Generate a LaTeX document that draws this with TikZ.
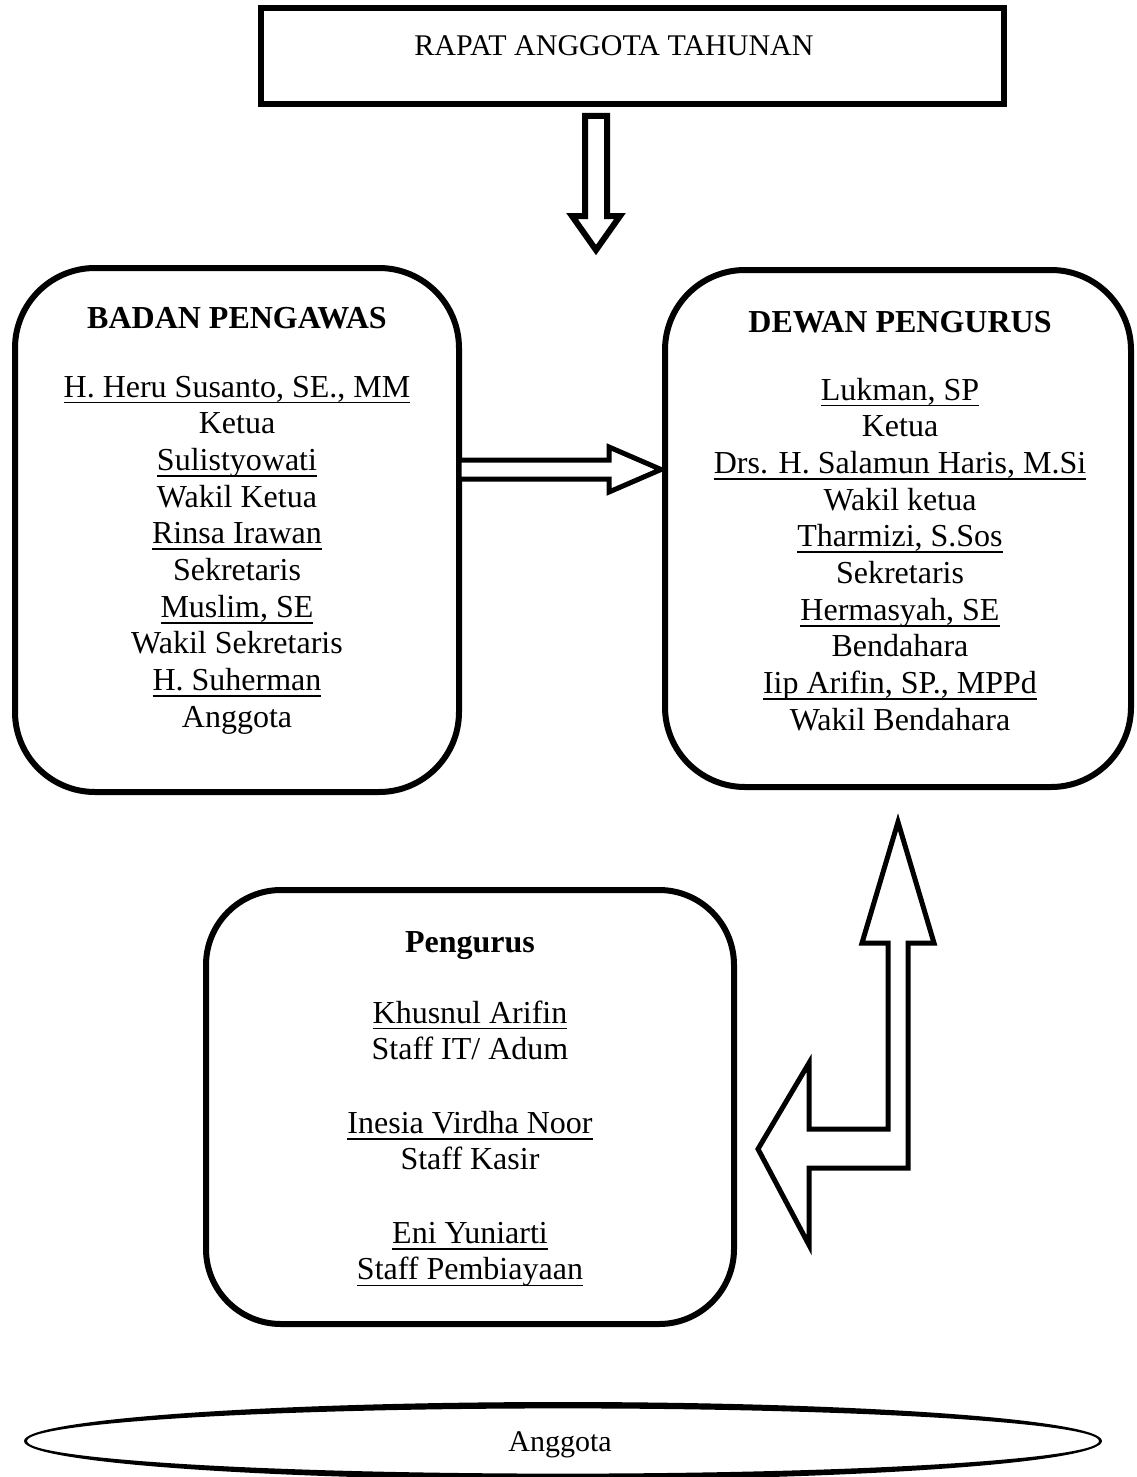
\documentclass[tikz,border=0pt]{standalone}
\usepackage{fontspec}
\setmainfont{Liberation Serif}
\newcommand\ulw[1]{\setbox0=\hbox{#1}\rlap{\rule[-3.2pt]{\wd0}{0.9pt}}\box0}
\tikzset{
  txt/.style={font=\fontsize{16}{18}\selectfont, inner sep=0pt, anchor=base},
  smalltxt/.style={txt, font=\fontsize{15}{17}\selectfont},
  hd/.style={txt, font=\fontsize{16}{18}\selectfont\bfseries},
  rbox/.style={draw, line width=3pt, rounded corners=#1, inner sep=0pt},
  blockarrow/.style={draw, line width=2.5pt, miter limit=10, line join=miter, fill=white},
}
\begin{document}
\begin{tikzpicture}[x=0.5pt, y=-0.5pt]
\useasboundingbox (0,0) rectangle (1136,1477);
% top box
\node[draw, line width=3pt, minimum width=371.5pt, minimum height=48pt, inner sep=0pt] (rat) at (632.5,56) {};
\node[smalltxt] (ratt) at (614,56) {RAPAT ANGGOTA TAHUNAN};
% down arrow
\draw[blockarrow, line width=3pt] (585,116) -- (607,116) -- (607,216) -- (620,216) -- (596,250) -- (572,216) -- (585,216) -- cycle;
% boxes
\node[rbox=40pt, minimum width=222pt, minimum height=262pt] (bp) at (237,530) {};
\node[rbox=40pt, minimum width=233pt, minimum height=258.5pt] (dp) at (898,528.5) {};
\node[rbox=37.5pt, minimum width=264pt, minimum height=217pt] (pg) at (470,1107) {};
% right arrow
\draw[blockarrow] (459,460) -- (609,460) -- (609,447) -- (661,469.5) -- (609,492) -- (609,479) -- (459,479) -- cycle;
% bent arrow
\draw[blockarrow] (898,822) -- (934,943) -- (908,943) -- (908,1168) -- (809,1168) -- (809,1245) -- (758,1149) -- (809,1063) -- (809,1129) -- (888,1129) -- (888,943) -- (862,943) -- cycle;
% Badan Pengawas text
\node[hd] (bph) at (237,328) {BADAN PENGAWAS};
\node[txt] (bp1) at (237,397) {\ulw{H. Heru Susanto, SE., MM}};
\node[txt] (bp2) at (237,433.7) {Ketua};
\node[txt] (bp3) at (237,470.4) {\ulw{Sulistyowati}};
\node[txt] (bp4) at (237,507.1) {Wakil Ketua};
\node[txt] (bp5) at (237,543.8) {\ulw{Rinsa Irawan}};
\node[txt] (bp6) at (237,580.5) {Sekretaris};
\node[txt] (bp7) at (237,617.2) {\ulw{Muslim, SE}};
\node[txt] (bp8) at (237,653.9) {Wakil Sekretaris};
\node[txt] (bp9) at (237,690.6) {\ulw{H. Suherman}};
\node[txt] (bp10) at (237,727.3) {Anggota};
% Dewan Pengurus text
\node[hd] (dph) at (900,332) {DEWAN PENGURUS};
\node[txt] (dp1) at (900,400) {\ulw{Lukman, SP}};
\node[txt] (dp2) at (900,436.7) {Ketua};
\node[txt] (dp3) at (900,473.4) {\ulw{Drs. H. Salamun Haris, M.Si}};
\node[txt] (dp4) at (900,510.1) {Wakil ketua};
\node[txt] (dp5) at (900,546.8) {\ulw{Tharmizi, S.Sos}};
\node[txt] (dp6) at (900,583.5) {Sekretaris};
\node[txt] (dp7) at (900,620.2) {\ulw{Hermasyah, SE}};
\node[txt] (dp8) at (900,656.9) {Bendahara};
\node[txt] (dp9) at (900,693.6) {\ulw{Iip Arifin, SP., MPPd}};
\node[txt] (dp10) at (900,730.3) {Wakil Bendahara};
% Pengurus text
\node[hd] (pgh) at (470,952) {Pengurus};
\node[txt] (pg1) at (470,1023) {\ulw{Khusnul Arifin}};
\node[txt] (pg2) at (470,1059.7) {Staff IT/ Adum};
\node[txt] (pg3) at (470,1133.1) {\ulw{Inesia Virdha Noor}};
\node[txt] (pg4) at (470,1169.8) {Staff Kasir};
\node[txt] (pg5) at (470,1243.2) {\ulw{Eni Yuniarti}};
\node[txt] (pg6) at (470,1279.9) {\ulw{Staff Pembiayaan}};
% Anggota ellipse
\coordinate (ang) at (563,1441);
\fill[even odd rule] (ang) ellipse [x radius=269.5pt, y radius=19.5pt] (ang) ellipse [x radius=268pt, y radius=16.3pt];
\node[smalltxt] (angt) at (560,1451) {Anggota};
\end{tikzpicture}
\end{document}
